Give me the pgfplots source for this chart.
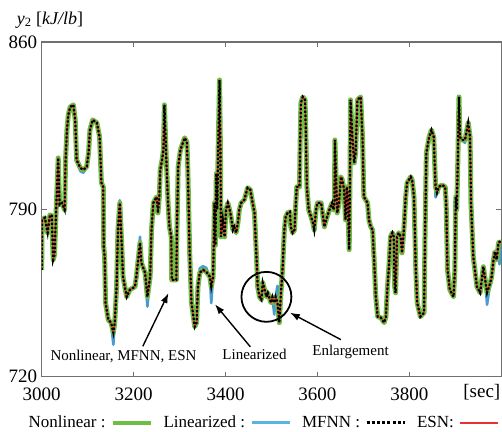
\documentclass[border=0pt]{standalone}
\usepackage{fontspec}
\setmainfont{Liberation Serif}
\usepackage{pgfplots}
\pgfplotsset{compat=1.18}
\usepackage{pgfplotstable}
\usetikzlibrary{arrows.meta}

\definecolor{cgreen}{HTML}{6CBE45}
\definecolor{cblue}{HTML}{4A9AD4}
\definecolor{clblue}{HTML}{5BB4DC}
\definecolor{cred}{HTML}{E8322B}
\definecolor{caxis}{HTML}{707070}

\pgfplotstableread{
x nl lin
3000 764.7 764.7
3001 785.6 785.6
3007 786.5 786.5
3013 780.2 780.2
3018 787.7 787.7
3022 787.3 787.3
3025 768.9 768.9
3028 771.0 771.0
3031 786.9 786.9
3036 811.5 811.5
3039 791.9 791.9
3044 792.7 792.7
3050 789.8 789.8
3052 810.7 810.7
3055 823.2 823.2
3058 829.5 829.5
3062 832.8 832.8
3069 833.7 833.7
3073 827.4 827.4
3076 810.7 810.7
3084 807.3 806.0
3091 806.5 805.3
3098 807.8 807.8
3102 813.6 813.6
3105 823.2 823.2
3111 827.4 827.4
3120 826.2 826.2
3126 820.3 820.3
3130 801.1 801.1
3134 799.4 799.4
3135 774.3 774.3
3137 770.2 770.2
3139 750.9 750.9
3145 743.8 743.8
3151 742.6 742.6
3156 738.4 733.4
3159 742.6 742.6
3163 757.6 757.6
3166 781.4 781.4
3170 792.7 793.8
3174 776.0 776.0
3177 761.8 761.8
3181 757.6 756.5
3185 753.4 753.4
3192 756.4 756.4
3203 757.6 757.6
3206 761.8 761.8
3214 776.0 778.5
3217 767.6 767.6
3225 763.5 763.5
3230 753.4 749.3
3236 761.8 761.8
3239 781.4 781.4
3243 792.7 792.7
3250 795.2 795.2
3253 788.5 788.5
3256 795.2 795.2
3258 806.5 806.5
3262 810.7 810.7
3265 814.9 814.9
3267 833.7 833.7
3271 811.9 811.9
3275 792.7 792.7
3278 782.7 782.7
3282 778.5 778.5
3283 760.5 760.5
3289 760.5 760.5
3293 760.5 760.5
3294 778.5 778.5
3297 807.8 807.8
3302 814.9 814.9
3311 819.9 819.9
3316 818.2 818.2
3318 806.5 806.5
3322 771.8 771.8
3326 750.9 750.9
3333 740.9 740.9
3337 742.6 742.6
3340 757.6 757.6
3344 763.5 765.3
3351 764.7 766.2
3358 763.9 765.5
3366 761.8 761.8
3369 757.6 750.8
3373 761.8 761.8
3376 792.7 792.7
3378 775.0 775.0
3380 805.0 805.0
3382 790.0 790.0
3384 814.9 814.9
3387 844.1 844.1
3389 813.6 813.6
3390 778.5 778.5
3394 785.6 785.6
3398 778.5 778.5
3401 789.8 789.8
3405 792.7 792.7
3409 789.8 789.8
3412 786.9 786.9
3416 781.4 781.4
3419 782.7 782.7
3423 780.2 780.2
3427 784.4 784.4
3430 789.8 789.8
3434 792.7 792.7
3441 794.0 794.0
3445 796.9 796.9
3448 799.0 799.0
3454 798.2 798.2
3459 792.7 792.7
3463 788.5 788.5
3467 771.8 771.8
3470 757.6 757.6
3474 753.4 753.4
3478 752.2 752.2
3481 759.3 759.3
3485 756.4 756.4
3489 753.4 753.4
3492 755.1 755.1
3499 750.9 750.9
3502 753.4 753.4
3506 750.9 746.0
3509 753.4 753.4
3513 750.9 758.0
3517 742.6 752.0
3520 753.4 753.4
3524 764.7 764.7
3528 781.4 781.4
3531 786.9 786.9
3535 788.5 788.5
3540 789.0 789.0
3542 782.7 782.7
3546 780.2 780.2
3550 781.4 781.4
3553 792.7 792.7
3555 799.4 799.4
3561 799.4 799.4
3562 813.6 813.6
3564 834.5 834.5
3568 837.0 837.0
3573 835.8 835.8
3575 820.3 820.3
3577 799.4 799.4
3581 789.8 789.8
3586 786.9 786.9
3590 784.4 784.4
3593 781.4 781.4
3597 789.8 789.8
3600 792.7 792.7
3608 792.7 792.7
3611 788.5 788.5
3615 782.7 782.7
3619 785.6 785.6
3626 789.8 789.8
3632 792.7 792.7
3635 789.8 789.8
3637 792.7 792.7
3638 819.0 819.0
3640 806.5 806.5
3643 788.5 788.5
3647 792.7 792.7
3651 803.6 803.6
3654 802.3 802.3
3658 798.2 798.2
3661 785.6 785.6
3664 799.4 799.4
3666 792.7 792.7
3669 773.1 773.1
3671 806.5 806.5
3672 835.8 835.8
3676 820.3 820.3
3680 809.4 809.4
3683 813.6 813.6
3687 835.8 835.8
3694 837.0 837.0
3698 820.3 820.3
3701 795.2 795.2
3709 792.7 792.7
3712 785.6 785.6
3716 782.7 782.7
3720 781.4 781.4
3723 770.2 770.2
3727 753.4 753.4
3731 745.1 745.1
3738 744.7 744.7
3745 742.6 742.6
3749 745.1 745.1
3752 756.4 756.4
3756 767.6 767.6
3759 778.5 778.5
3763 780.2 780.2
3766 778.5 778.5
3768 757.6 757.6
3770 755.1 755.1
3773 778.5 778.5
3777 780.2 780.2
3781 778.5 778.5
3784 771.8 771.8
3788 781.4 781.4
3792 795.2 795.2
3795 801.1 801.1
3799 802.3 802.3
3803 803.6 803.6
3806 802.3 802.3
3810 795.2 795.2
3814 764.7 764.7
3817 750.9 750.9
3824 745.1 745.1
3832 746.8 746.8
3834 778.5 778.5
3837 813.6 813.6
3843 820.3 820.3
3848 823.2 823.2
3853 820.3 820.3
3857 799.4 795.0
3860 796.9 796.9
3864 799.4 799.4
3871 800.2 800.2
3878 799.4 799.4
3880 792.7 792.7
3883 764.7 764.7
3888 756.4 756.4
3896 753.4 753.4
3899 764.7 764.7
3901 795.2 795.2
3903 789.8 789.8
3905 806.5 806.5
3908 837.0 837.0
3910 820.3 820.3
3914 819.0 819.0
3921 819.0 817.8
3925 823.2 823.2
3928 826.2 826.2
3932 820.3 820.3
3934 792.7 792.7
3939 770.2 770.2
3947 757.6 757.6
3954 755.1 755.1
3961 766.0 766.0
3965 760.5 760.5
3969 755.1 750.1
3976 759.3 759.3
3979 761.8 761.8
3983 768.9 768.9
3986 772.2 772.2
3990 768.9 768.9
3994 776.0 776.0
3996 776.4 767.0
4000 776.0 776.0
}\datatable

\begin{document}
\begin{tikzpicture}
\begin{axis}[
  scale only axis, width=460pt, height=335pt,
  xmin=3000, xmax=4000, ymin=720, ymax=860,
  xtick={3000,3200,3400,3600,3800}, ytick={720,790,860},
  axis line style={caxis, line width=1.1pt},
  tick style={caxis, line width=0.9pt},
  major tick length=5pt,
  tick align=inside,
  /pgf/number format/1000 sep={},
  /pgf/number format/assume math mode=true,
  ticklabel style={font=\fontsize{19}{22}\selectfont},
  yticklabel style={xshift=-1pt},
  xticklabel style={yshift=-8pt},
  clip mode=individual,
  legend columns=4,
  legend plot pos=right,
  legend image code/.code={\draw[#1] (0pt,0pt) -- (38pt,0pt);},
  legend style={at={(0.481,-0.137)}, anchor=center, draw=none, fill=none,
    font=\fontsize{17}{20}\selectfont, inner sep=0pt,
    /tikz/every odd column/.append style={column sep=3pt},
    /tikz/every even column/.append style={column sep=9pt}},
]
\addplot[cblue, line width=2.6pt, line join=round, forget plot] table[x=x,y=lin]{\datatable};
\addplot[cgreen, line width=5pt, line join=round, forget plot] table[x=x,y=nl]{\datatable};
\addplot[cred, line width=1.3pt, line join=round, forget plot] table[x=x,y=nl]{\datatable};
\addplot[black, line width=2.2pt, dash pattern=on 2.2pt off 1.8pt, forget plot] table[x=x,y=nl]{\datatable};

\addlegendimage{cgreen, line width=4pt}
\addlegendentry{Nonlinear :}
\addlegendimage{clblue, line width=3pt}
\addlegendentry{Linearized :}
\addlegendimage{black, line width=3pt, dash pattern=on 3pt off 2.2pt}
\addlegendentry{MFNN :}
\addlegendimage{cred, line width=2pt}
\addlegendentry{ESN:}

% annotations
\draw[black, line width=1.4pt, -{Latex[length=10pt,width=7pt]}] (axis cs:3220,732.7) -- (axis cs:3276,755.0);
\node[font=\fontsize{15}{18}\selectfont] at (axis cs:3178,728.4) {Nonlinear, MFNN, ESN};
\draw[black, line width=1.4pt, -{Latex[length=10pt,width=7pt]}] (axis cs:3454,732.5) -- (axis cs:3377,750.3);
\node[font=\fontsize{15}{18}\selectfont] at (axis cs:3463,729.2) {Linearized};
\draw[black, line width=1.8pt] (axis cs:3489,753.4) circle[radius=25pt];
\draw[black, line width=1.4pt, -{Latex[length=10pt,width=7pt]}] (axis cs:3651,735.5) -- (axis cs:3540,746.8);
\node[font=\fontsize{15}{18}\selectfont] at (axis cs:3672,730.5) {Enlargement};

\node[anchor=west, xshift=-25pt, yshift=22pt, font=\fontsize{18}{21}\selectfont, inner sep=0pt] at (rel axis cs:0,1) {\textit{y}\textsubscript{2} [\textit{kJ/lb}]};
\node[xshift=-19.5pt, yshift=-15pt, font=\fontsize{19}{22}\selectfont, inner sep=0pt] at (rel axis cs:1,0) {[sec]};

\path (rel axis cs:0,0) ++(-41.7pt,-54pt) rectangle ++(502pt,431pt);
\end{axis}
\end{tikzpicture}
\end{document}
